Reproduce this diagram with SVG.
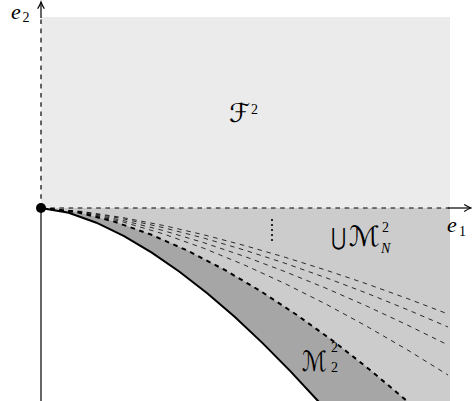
<svg xmlns="http://www.w3.org/2000/svg" width="472" height="401" viewBox="0 0 472 401">
<style>
.axis{stroke:#000;stroke-width:1.2;fill:none}
.dash{stroke-dasharray:4.6 4.6}
.thin{stroke:#000;stroke-width:0.8;fill:none;stroke-dasharray:4.6 4.6}
.thick{stroke:#000;stroke-width:2;fill:none;stroke-dasharray:4.6 4.6}
.bound{stroke:#000;stroke-width:2;fill:none}
text{fill:#000}
.it{font-family:"Liberation Serif",serif;font-style:italic}
.rm{font-family:"Liberation Serif",serif}
.cal{font-family:"DejaVu Serif","DejaVu Sans",serif}
</style>
<g id="regions">
<rect id="F2-region" x="41" y="17" width="409" height="191" fill="#ebebeb"/>
<path id="MN-region" fill="#cccccc" d="M41,208 L450,208 L450,401 L318,401 L290.3,371.1 L262.6,343.1 L234.9,317.1 L207.2,293.2 L179.5,271.7 L151.8,252.6 L124.1,236.1 L96.4,222.7 L68.7,212.8 Z"/>
<path id="M22-region" fill="#a6a6a6" d="M41,208 L77.6,212.3 L114.2,221.6 L150.8,234.5 L187.4,250.6 L224,269.5 L260.6,291.1 L297.2,315.2 L333.8,341.5 L370.4,370.2 L407,401 L318,401 L290.3,371.1 L262.6,343.1 L234.9,317.1 L207.2,293.2 L179.5,271.7 L151.8,252.6 L124.1,236.1 L96.4,222.7 L68.7,212.8 Z"/>
</g>
<g id="curves">
<path class="thin" d="M41,208 L81.7,211.4 L122.4,217.5 L163.1,225.4 L203.8,234.8 L244.5,245.5 L285.2,257.3 L325.9,270.1 L366.6,283.8 L407.3,298.5 L448,314"/>
<path class="thin" d="M41,208 L81.7,211.8 L122.4,218.6 L163.1,227.6 L203.8,238.1 L244.5,250.1 L285.2,263.3 L325.9,277.7 L366.6,293.1 L407.3,309.6 L448,327"/>
<path class="thin" d="M41,208 L81.7,212.3 L122.4,220.3 L163.1,230.5 L203.8,242.7 L244.5,256.4 L285.2,271.7 L325.9,288.2 L366.6,306 L407.3,325 L448,345"/>
<path class="thin" d="M41,208 L81.7,212.7 L122.4,221.8 L163.1,233.8 L203.8,248.3 L244.5,265 L285.2,283.7 L325.9,304.1 L366.6,326.2 L407.3,349.8 L448,375"/>
<path class="thick" d="M41,208 L77.6,212.3 L114.2,221.6 L150.8,234.5 L187.4,250.6 L224,269.5 L260.6,291.1 L297.2,315.2 L333.8,341.5 L370.4,370.2 L407,401"/>
<path class="bound" d="M41,208 L68.7,212.8 L96.4,222.7 L124.1,236.1 L151.8,252.6 L179.5,271.7 L207.2,293.2 L234.9,317.1 L262.6,343.1 L290.3,371.1 L318,401 L331.9,416.7"/>
</g>
<g id="axes">
<line class="axis dash" x1="41" y1="208" x2="41" y2="17"/>
<line class="axis" x1="41" y1="18" x2="41" y2="2.5"/>
<path class="axis" d="M37.6,8.8 Q40,5 41,2 Q42,5 44.4,8.8"/>
<line class="axis" x1="41" y1="208" x2="41" y2="401"/>
<line class="axis dash" x1="41" y1="208" x2="449" y2="208"/>
<line class="axis" x1="448" y1="208" x2="470.5" y2="208"/>
<path class="axis" d="M464.2,204.6 Q468,207 471,208 Q468,209 464.2,211.4"/>
</g>
<g id="dots">
<circle cx="41" cy="208" r="5" fill="#000"/>
<g fill="#000">
<circle cx="272" cy="220" r="1.1"/><circle cx="272" cy="225" r="1.1"/><circle cx="272" cy="230" r="1.1"/><circle cx="272" cy="235" r="1.1"/><circle cx="272" cy="240" r="1.1"/>
</g>
</g>
<g id="labels">
<text class="it" x="11" y="19" font-size="22">e</text><text class="rm" x="22.5" y="22" font-size="14">2</text>
<text class="it" x="447" y="232" font-size="22">e</text><text class="rm" x="459" y="236" font-size="14">1</text>
<text class="cal" x="229" y="122" font-size="26" textLength="21" lengthAdjust="spacingAndGlyphs">ℱ</text><text class="rm" x="251" y="114" font-size="14">2</text>
<text class="cal" x="331" y="245" font-size="24" textLength="15" lengthAdjust="spacingAndGlyphs">⋃</text><text class="cal" x="349" y="246" font-size="28" textLength="31" lengthAdjust="spacingAndGlyphs">ℳ</text><text class="rm" x="382" y="232" font-size="14">2</text><text class="it" x="381" y="253" font-size="14">N</text>
<text class="cal" x="302" y="371" font-size="28" textLength="25" lengthAdjust="spacingAndGlyphs">ℳ</text><text class="rm" x="331" y="352" font-size="14">2</text><text class="rm" x="331" y="372" font-size="14">2</text>
</g>
</svg>
